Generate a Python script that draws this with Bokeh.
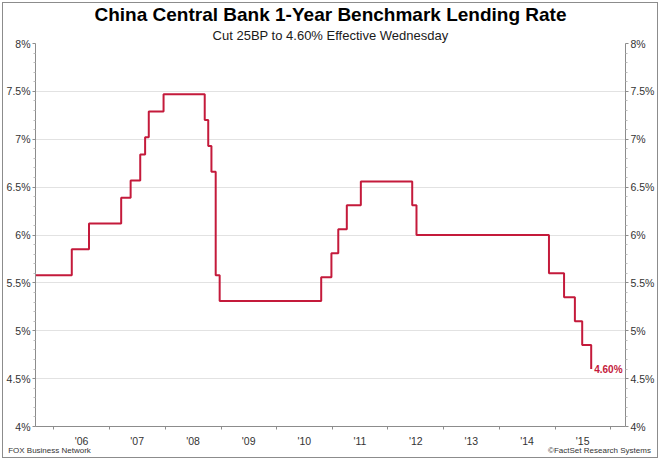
import pandas as pd
from bokeh.plotting import figure
from bokeh.models import (Range1d, LinearAxis, DatetimeAxis, FixedTicker,
                          CustomJSTickFormatter, Label, Title, ColumnDataSource,
                          InlineStyleSheet)
from bokeh.embed import file_html
from bokeh.resources import INLINE

# ---- data: effective date and 1-year benchmark lending rate (%) ----
dates = ["2004-10-29", "2006-04-28", "2006-08-19", "2007-03-18", "2007-05-19",
         "2007-07-21", "2007-08-22", "2007-09-15", "2007-12-21", "2008-09-16",
         "2008-10-09", "2008-10-30", "2008-11-27", "2008-12-23", "2010-10-20",
         "2010-12-26", "2011-02-09", "2011-04-06", "2011-07-07", "2012-06-08",
         "2012-07-06", "2014-11-22", "2015-03-01", "2015-05-11", "2015-06-28",
         "2015-08-26"]
rates = [5.58, 5.85, 6.12, 6.39, 6.57, 6.84, 7.02, 7.29, 7.47, 7.20,
         6.93, 6.66, 5.58, 5.31, 5.56, 5.81, 6.06, 6.31, 6.56, 6.31,
         6.00, 5.60, 5.35, 5.10, 4.85, 4.60]
years = list(range(2006, 2016))
y_ticks = [4.0, 4.5, 5.0, 5.5, 6.0, 6.5, 7.0, 7.5, 8.0]

title = "China Central Bank 1-Year Benchmark Lending Rate"
subtitle = "Cut 25BP to 4.60% Effective Wednesday"
footers = ["FOX Business Network", "\u00a9FactSet Research Systems"]

LINE = "#c41a3b"
AX = "#8c8c8c"
TXT = "#333333"
FONT = "Liberation Sans"

X0, X1 = pd.Timestamp("2005-09-02"), pd.Timestamp("2016-04-07")

def ms(s):
    return pd.Timestamp(s).value // 10**6

src = ColumnDataSource(dict(x=pd.to_datetime(dates), y=rates))

p = figure(width=660, height=460, x_axis_type="datetime",
           output_backend="svg", toolbar_location=None,
           x_range=Range1d(X0, X1), y_range=Range1d(4, 8),
           min_border_left=35, min_border_right=35,
           min_border_top=43, min_border_bottom=34)
p.stylesheets = [InlineStyleSheet(css=(
    ":host { position: relative; }"
    ":host::after { content: ''; position: absolute; left: 2px; top: 2px; "
    "right: 2px; bottom: 2px; border: 1px solid #8c8c8c; "
    "pointer-events: none; z-index: 100; }"))]
p.outline_line_color = None
p.background_fill_color = "white"
p.border_fill_color = "white"

# titles
p.add_layout(Title(text=subtitle, align="center", text_font=FONT,
                   text_font_size="13px", text_font_style="normal",
                   text_color="#1a1a1a", standoff=2), "above")
p.add_layout(Title(text=title, align="center", text_font=FONT,
                   text_font_size="19px", text_font_style="bold",
                   text_color="#000000", standoff=0), "above")

# y axes
minor_y = [round(4 + 0.1 * i, 1) for i in range(41) if round(4 + 0.1 * i, 1) not in y_ticks]
yticker = FixedTicker(ticks=y_ticks, minor_ticks=minor_y)
yfmt = CustomJSTickFormatter(code="return tick + '%'")

def style_y(ax):
    ax.ticker = yticker
    ax.formatter = yfmt
    ax.axis_line_color = AX
    ax.major_tick_line_color = AX
    ax.major_tick_out = 3
    ax.major_tick_in = 0
    ax.minor_tick_line_color = "#bbbbbb"
    ax.minor_tick_out = 2
    ax.minor_tick_in = 0
    ax.major_label_standoff = 2
    ax.major_label_text_font = FONT
    ax.major_label_text_font_size = "10.5px"
    ax.major_label_text_color = TXT

style_y(p.yaxis[0])
right_axis = LinearAxis()
style_y(right_axis)
p.add_layout(right_axis, "right")

p.ygrid.ticker = yticker
p.ygrid.grid_line_color = "#e2e2e2"
p.xgrid.visible = False

# x axis: labels at mid-year, tick marks at year boundaries
xa = p.xaxis[0]
xa.ticker = FixedTicker(ticks=[ms(f"{y}-07-01") for y in years],
                        minor_ticks=[ms(f"{y}-01-01") for y in years + [2016]])
xa.formatter = CustomJSTickFormatter(
    code="return \"'\" + String(new Date(tick).getUTCFullYear()).slice(2)")
xa.axis_line_color = AX
xa.major_tick_line_color = None
xa.major_tick_out = 0
xa.major_tick_in = 0
xa.minor_tick_line_color = AX
xa.minor_tick_out = 3
xa.minor_tick_in = 0
xa.major_label_standoff = 5
xa.major_label_text_font = FONT
xa.major_label_text_font_size = "10.5px"
xa.major_label_text_color = TXT

# footer line: source credits as a bare axis below the date axis
span = X1.value // 10**6 - X0.value // 10**6
def px_to_ms(px):
    return X0.value // 10**6 + (px - 35) / 590 * span
fa = DatetimeAxis(ticker=FixedTicker(ticks=[px_to_ms(49), px_to_ms(599)]),
                  formatter=CustomJSTickFormatter(args=dict(labels=footers),
                                                  code="return labels[index]"))
fa.axis_line_color = None
fa.major_tick_line_color = None
fa.minor_tick_line_color = None
fa.major_tick_out = 0
fa.major_tick_in = 0
fa.major_label_standoff = -4
fa.major_label_text_font = FONT
fa.major_label_text_font_size = "8px"
fa.major_label_text_color = TXT
p.add_layout(fa, "below")

p.step("x", "y", source=src, mode="after", line_color=LINE, line_width=2)

last_x = pd.Timestamp(dates[-1])
p.add_layout(Label(x=last_x, y=rates[-1], text=f"{rates[-1]:.2f}%",
                   x_offset=3, text_baseline="middle", text_align="left",
                   text_font=FONT, text_font_size="10px", text_font_style="bold",
                   text_color=LINE))

open("out.html", "w").write(file_html(p, INLINE))
